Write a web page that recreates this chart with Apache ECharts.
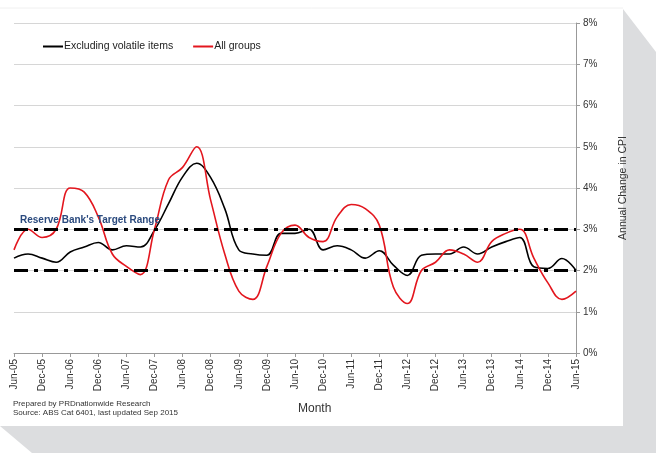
<!DOCTYPE html>
<html>
<head>
<meta charset="utf-8">
<script src="https://cdn.jsdelivr.net/npm/echarts@6/dist/echarts.min.js"></script>
<style>
html,body{margin:0;padding:0;background:#fff;}
#chart{width:656px;height:453px;}
</style>
</head>
<body>
<div id="chart"></div>
<script>
// Quarterly categories Jun-05 .. Jun-15
var categories = ["Jun-05","Sep-05","Dec-05","Mar-06","Jun-06","Sep-06","Dec-06","Mar-07","Jun-07","Sep-07",
  "Dec-07","Mar-08","Jun-08","Sep-08","Dec-08","Mar-09","Jun-09","Sep-09","Dec-09","Mar-10",
  "Jun-10","Sep-10","Dec-10","Mar-11","Jun-11","Sep-11","Dec-11","Mar-12","Jun-12","Sep-12",
  "Dec-12","Mar-13","Jun-13","Sep-13","Dec-13","Mar-14","Jun-14","Sep-14","Dec-14","Mar-15","Jun-15"];
// Annual change in CPI (%)
var excludingVolatile = [2.3,2.4,2.3,2.2,2.45,2.57,2.68,2.5,2.6,2.57,
  2.98,3.62,4.27,4.6,4.25,3.5,2.5,2.4,2.37,2.9,
  2.9,3.0,2.5,2.6,2.5,2.3,2.48,2.13,1.88,2.37,
  2.4,2.4,2.57,2.4,2.57,2.7,2.8,2.09,2.05,2.29,2.0];
var allGroups = [2.5,3.0,2.8,3.0,4.0,3.9,3.3,2.4,2.1,1.9,
  3.0,4.2,4.5,5.0,3.7,2.4,1.5,1.3,2.1,2.9,
  3.1,2.8,2.7,3.3,3.6,3.5,3.1,1.6,1.2,2.0,
  2.2,2.5,2.4,2.2,2.7,2.9,3.0,2.3,1.7,1.3,1.5];
var targetRange = [2, 3];
var yTicks = [0,1,2,3,4,5,6,7,8];

var chart = echarts.init(document.getElementById('chart'));
var FONT = 'Liberation Sans, Arial, sans-serif';
var option = {
  backgroundColor: '#ffffff',
  animation: false,
  textStyle: { fontFamily: FONT },
  graphic: [
    { type: 'polygon', z: -10, silent: true,
      shape: { points: [[623,9],[656,52],[656,453],[32,453],[0,426],[623,426]] },
      style: { fill: '#dcdddf' } },
    { type: 'line', z: -9, silent: true, shape: { x1: 0, y1: 8, x2: 623, y2: 8 },
      style: { stroke: '#f0f0f0', lineWidth: 1 } },
    { type: 'text', left: 13, top: 399, z: 10,
      style: { text: 'Prepared by PRDnationwide Research\nSource: ABS Cat 6401, last updated Sep 2015',
        font: '8px ' + FONT, fill: '#333', lineHeight: 9 } },
    { type: 'text', left: 298, top: 403, z: 10,
      style: { text: 'Month', font: '12px ' + FONT, fill: '#333' } }
  ],
  legend: {
    left: 38, top: 36,
    itemWidth: 20, itemHeight: 2, itemGap: 20,
    icon: 'rect',
    textStyle: { fontSize: 10.5, color: '#222', fontFamily: FONT, padding: [0,0,0,-4] },
    data: ['Excluding volatile items', 'All groups']
  },
  grid: { left: 14, right: 80, top: 23, bottom: 100, containLabel: false },
  xAxis: {
    type: 'category',
    data: categories,
    boundaryGap: false,
    axisLine: { lineStyle: { color: '#999', width: 1 } },
    axisTick: { interval: 1, length: 4, lineStyle: { color: '#999' } },
    axisLabel: { interval: 1, rotate: 90, fontSize: 10, color: '#333', margin: 6, fontFamily: FONT },
    splitLine: { show: false }
  },
  yAxis: {
    type: 'value',
    position: 'right',
    min: 0, max: 8, interval: 1,
    name: 'Annual Change in CPI',
    nameLocation: 'middle',
    nameRotate: 90,
    nameGap: 42,
    nameTextStyle: { fontSize: 10.5, color: '#333', fontFamily: FONT },
    axisLine: { show: true, lineStyle: { color: '#999' } },
    axisTick: { show: true, length: 4, lineStyle: { color: '#999' } },
    axisLabel: { fontSize: 10, color: '#333', margin: 7, fontFamily: FONT,
      formatter: function (v) { return yTicks.indexOf(v) >= 0 ? v + '%' : ''; } },
    splitLine: { lineStyle: { color: '#d6d6d6', width: 1 } }
  },
  series: [
    {
      name: 'Excluding volatile items',
      type: 'line',
      data: excludingVolatile,
      smooth: 0.4,
      showSymbol: false,
      symbol: 'none',
      itemStyle: { color: '#000' },
      lineStyle: { color: '#000', width: 1.6 },
      z: 3,
      markLine: {
        silent: true,
        symbol: 'none',
        lineStyle: { color: '#000', width: 3, type: [14, 6, 4, 6] },
        label: { show: false },
        data: [
          { yAxis: targetRange[0] },
          { yAxis: targetRange[1],
            label: { show: true, position: 'insideStartTop', distance: [6, 4],
              formatter: "Reserve Bank's Target Range",
              fontSize: 10, fontWeight: 'bold', color: '#2b4a7e', fontFamily: FONT } }
        ]
      }
    },
    {
      name: 'All groups',
      type: 'line',
      data: allGroups,
      smooth: 0.4,
      showSymbol: false,
      symbol: 'none',
      itemStyle: { color: '#e3161e' },
      lineStyle: { color: '#e3161e', width: 1.6 },
      z: 4
    }
  ]
};
chart.setOption(option);
</script>
</body>
</html>
